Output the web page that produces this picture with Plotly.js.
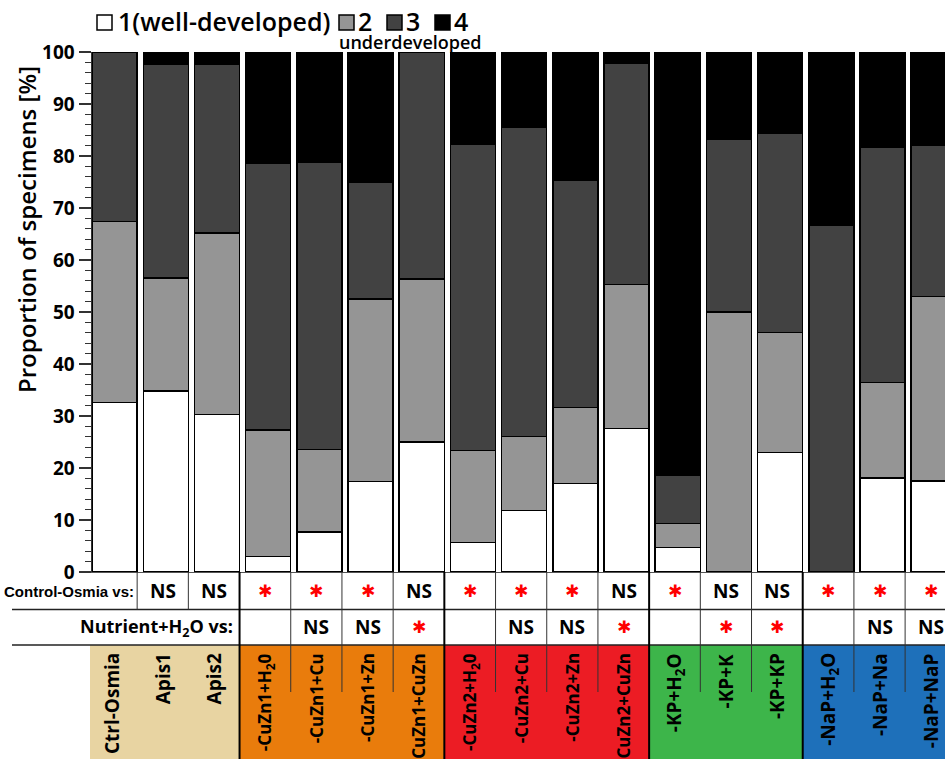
<!DOCTYPE html>
<html>
<head>
<meta charset="utf-8">
<script src="https://cdn.plot.ly/plotly-3.0.1.min.js"></script>
<style>html,body{margin:0;padding:0;background:#fff;}#chart{width:945px;height:759px;}</style>
</head>
<body>
<div id="chart"></div>
<script>
// ---- data ----
const categories = ['Ctrl-Osmia','Apis1','Apis2','-CuZn1+H2O','-CuZn1+Cu','-CuZn1+Zn','-CuZn1+CuZn',
  '-CuZn2+H2O','-CuZn2+Cu','-CuZn2+Zn','-CuZn2+CuZn','-KP+H2O','-KP+K','-KP+KP','-NaP+H2O','-NaP+Na','-NaP+NaP'];
const categoryLabels = ['Ctrl-Osmia','Apis1','Apis2','-CuZn1+H<sub>2</sub>0','-CuZn1+Cu','-CuZn1+Zn','-CuZn1+CuZn',
  '-CuZn2+H<sub>2</sub>0','-CuZn2+Cu','-CuZn2+Zn','-CuZn2+CuZn','-KP+H<sub>2</sub>O','-KP+K','-KP+KP','-NaP+H<sub>2</sub>O','-NaP+Na','-NaP+NaP'];
const score1 = [32.6, 34.8, 30.3, 3.0, 7.7, 17.4, 25.0, 5.7, 11.8, 17.0, 27.6, 4.7, 0, 23.0, 0, 18.1, 17.5];
const score2 = [34.8, 21.7, 34.9, 24.3, 15.9, 35.1, 31.3, 17.7, 14.3, 14.6, 27.7, 4.6, 50.0, 23.1, 0, 18.3, 35.5];
const score3 = [32.6, 41.2, 32.5, 51.4, 55.2, 22.4, 43.7, 58.8, 59.5, 43.8, 42.5, 9.4, 33.2, 38.3, 66.6, 45.3, 29.1];
const score4 = [0, 2.3, 2.3, 21.3, 21.2, 25.1, 0, 17.8, 14.4, 24.6, 2.2, 81.3, 16.8, 15.6, 33.4, 18.3, 17.9];
const seriesNames = ['1(well-developed)', '2', '3', '4'];
const ctrlSig = ['', 'NS', 'NS', '*', '*', '*', 'NS', '*', '*', '*', 'NS', '*', 'NS', 'NS', '*', '*', '*'];
const nutrSig = ['', '', '', '', 'NS', 'NS', '*', '', 'NS', 'NS', '*', '', '*', '*', '', 'NS', 'NS'];
const groupOf = [0,0,0,1,1,1,1,2,2,2,2,3,3,3,4,4,4];
const yTicks = [0,10,20,30,40,50,60,70,80,90,100];

// ---- style ----
const fills = ['#ffffff', '#959595', '#424242', '#000000'];
const groupColors = ['#e8d4a2', '#e97c0c', '#ec1c24', '#3db54a', '#1e70ba'];
const FONT = 'Open Sans, sans-serif';
const NARROW = 'Liberation Sans, Arial, sans-serif';
const L = 92, T = 52, PW = 853, PH = 520;
const xr = [-0.441, 16.22];
const cellShift = 0.059;
const px2x = p => (p - L) / PW;
const py2y = p => (T + PH - p) / PH;
const idx2px = i => L + (i - xr[0]) * PW / (xr[1] - xr[0]);
const bnd = k => idx2px(k - 0.5 - cellShift);

const traces = [score1, score2, score3, score4].map((vals, s) => ({
  type: 'bar', x: categories, y: vals, name: seriesNames[s],
  width: 0.88, showlegend: false, hoverinfo: 'skip',
  marker: {color: fills[s], line: {color: '#000', width: 1.5}}
}));

const shapes = [];
const annotations = [];
const line = (x0, y0, x1, y1, w, c) => shapes.push({type:'line', xref:'paper', yref:'paper',
  x0: px2x(x0), x1: px2x(x1), y0: py2y(y0), y1: py2y(y1), line:{color:c||'#222', width:w}});

// coloured bands
let gStart = 0;
for (let i = 1; i <= categories.length; i++) {
  if (i === categories.length || groupOf[i] !== groupOf[i-1]) {
    const x0 = gStart === 0 ? 90 : bnd(gStart);
    const x1 = i === categories.length ? 960 : bnd(i);
    shapes.push({type:'rect', xref:'paper', yref:'paper', layer:'below',
      x0: px2x(x0), x1: px2x(x1), y0: py2y(645), y1: py2y(760), line:{width:0}, fillcolor: groupColors[groupOf[i-1]]});
    gStart = i;
  }
}
// horizontal table lines
line(12, 609.5, 945, 609.5, 1.5);
line(12, 645, 945, 645, 1.5);
// vertical table lines
for (let k = 1; k < categories.length; k++) {
  const p = bnd(k);
  if (groupOf[k] !== groupOf[k-1]) {
    line(p, 572, p, 760, 2, '#000');
  } else {
    line(p, 572, p, 609.5, 1, '#333');
    if (groupOf[k] !== 0) {
      line(p, 609.5, p, 645, 1, '#333');
      line(p, 645, p, 692, 1, '#333');
    }
  }
}

// significance rows
const sigAnn = (txt, i, py) => {
  if (!txt) return;
  const star = txt === '*';
  annotations.push({xref:'x', yref:'paper', x: i - cellShift, y: py2y(py), xanchor:'center', yanchor:'middle', showarrow:false,
    text: star ? '✱' : txt,
    font: star ? {family:'DejaVu Sans, sans-serif', size:17, color:'#ff0000'} : {family:FONT, size:19, weight:700, color:'#000'}});
};
categories.forEach((c, i) => { sigAnn(ctrlSig[i], i, 591); sigAnn(nutrSig[i], i, 627); });

annotations.push({xref:'paper', yref:'paper', x: px2x(136), y: py2y(591), xanchor:'right', yanchor:'middle', showarrow:false,
  text:'<b>Control-Osmia vs:</b>', font:{family:NARROW, size:15, color:'#000'}});
annotations.push({xref:'paper', yref:'paper', x: px2x(235), y: py2y(627), xanchor:'right', yanchor:'middle', showarrow:false,
  text:'Nutrient+H<sub>2</sub>O vs:', font:{family:FONT, size:18, weight:700, color:'#000'}});

// category labels (rotated)
categoryLabels.forEach((lab, i) => {
  const small = groupOf[i] === 1 || groupOf[i] === 2;
  annotations.push({xref:'x', yref:'paper', x: i - cellShift, y: py2y(651), yanchor:'top', xanchor:'center',
    textangle:-90, showarrow:false, text: lab,
    font: {family:FONT, size: small ? 17 : 19, weight:700, color:'#000'}});
});

// y title
annotations.push({xref:'paper', yref:'paper', x: px2x(26), y: py2y(230), xanchor:'center', yanchor:'middle', textangle:-90, showarrow:false,
  text:'Proportion of specimens [%]', font:{family:FONT, size:24, weight:600, color:'#000'}});

// legend
const sq = (x0, c) => shapes.push({type:'rect', xref:'paper', yref:'paper', x0: px2x(x0), x1: px2x(x0+15),
  y0: py2y(30), y1: py2y(15), fillcolor: c, line:{color:'#000', width:1.5}});
const lt = (x, txt, py, size) => annotations.push({xref:'paper', yref:'paper', x: px2x(x), y: py2y(py), xanchor:'left', yanchor:'middle',
  showarrow:false, text: txt, font:{family:FONT, size:size, weight:600, color:'#000'}});
sq(97, fills[0]); lt(116, seriesNames[0], 21, 25);
sq(339, fills[1]); lt(356, seriesNames[1], 21, 25);
sq(387, fills[2]); lt(404, seriesNames[2], 21, 25);
sq(435, fills[3]); lt(452, seriesNames[3], 21, 25);
lt(337, 'underdeveloped', 42, 18);

const layout = {
  width: 945, height: 759,
  margin: {l: L, r: 945 - L - PW, t: T, b: 759 - T - PH, pad: 0},
  paper_bgcolor: '#fff', plot_bgcolor: '#fff',
  barmode: 'stack', bargap: 0.12,
  xaxis: {type:'category', range: xr, showticklabels:false, ticks:'', showgrid:false, zeroline:false,
    showline:true, linecolor:'#555', linewidth:1, fixedrange:true},
  yaxis: {range:[0,100], tickvals: yTicks, ticks:'outside', ticklen:12, tickwidth:1.2, tickcolor:'#333',
    minor:{dtick:2, ticks:'outside', ticklen:6, tickwidth:1, tickcolor:'#333', showgrid:false},
    showgrid:false, zeroline:false, showline:true, linecolor:'#333', linewidth:1.5,
    tickfont:{family:FONT, size:19, weight:700, color:'#000'}, fixedrange:true},
  shapes: shapes, annotations: annotations, showlegend:false
};
Plotly.newPlot('chart', traces, layout, {displayModeBar:false, staticPlot:true});
</script>
</body>
</html>
